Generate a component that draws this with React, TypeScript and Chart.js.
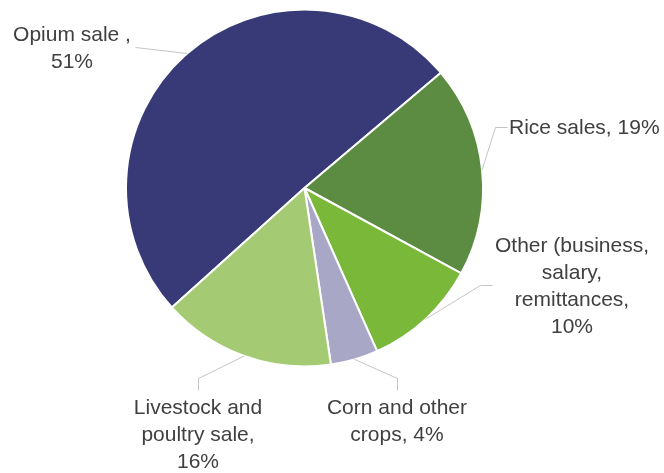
import React, { useEffect, useRef } from "react";
import { Chart, registerables } from "chart.js";

Chart.register(...registerables);

const categories = [
  "Opium sale ,",
  "Rice sales,",
  "Other (business, salary, remittances,",
  "Corn and other crops,",
  "Livestock and poultry sale,",
];
const shares = [50.5, 19.1, 10.4, 4.3, 15.7];
const sliceColors = ["#373a76", "#5b8c42", "#7ab83a", "#a8a8c6", "#a4cb74"];
const labelLines = [
  ["Opium sale ,", "51%"],
  ["Rice sales, 19%"],
  ["Other (business,", "salary,", "remittances,", "10%"],
  ["Corn and other", "crops, 4%"],
  ["Livestock and", "poultry sale,", "16%"],
];

// label layout (text anchor, alignment, leader elbow points)
const labelLayout = [
  { x: 72, y: 33, align: "center", leader: [[135, 47]] },
  { x: 509, y: 126, align: "left", leader: [[495, 127], [507, 127]] },
  { x: 572, y: 244, align: "center", leader: [[480, 285], [492, 285]] },
  { x: 397, y: 406, align: "center", leader: [[397, 378], [397, 390]] },
  { x: 198, y: 406, align: "center", leader: [[198, 378], [198, 390]] },
];

const labelPlugin = {
  id: "outLabels",
  afterDraw(chart: any) {
    const ctx = chart.ctx;
    const meta = chart.getDatasetMeta(0);
    ctx.save();
    meta.data.forEach((arc: any, i: number) => {
      const mid = (arc.startAngle + arc.endAngle) / 2;
      const r = arc.outerRadius;
      const sx = arc.x + Math.cos(mid) * r;
      const sy = arc.y + Math.sin(mid) * r;
      const lay = labelLayout[i];
      ctx.strokeStyle = "#c4c4c4";
      ctx.lineWidth = 1;
      ctx.beginPath();
      ctx.moveTo(sx, sy);
      lay.leader.forEach((p) => ctx.lineTo(p[0] + 0.5, p[1] + 0.5));
      ctx.stroke();
      ctx.fillStyle = "#404040";
      ctx.font = '21px "Liberation Sans", Arial, sans-serif';
      ctx.textAlign = lay.align as CanvasTextAlign;
      ctx.textBaseline = "alphabetic";
      labelLines[i].forEach((t, k) => {
        ctx.fillText(t, lay.x, lay.y + k * 27 + 7.5);
      });
    });
    ctx.restore();
  },
};

export default function App() {
  const ref = useRef<HTMLCanvasElement>(null);
  useEffect(() => {
    const chart = new Chart(ref.current as HTMLCanvasElement, {
      type: "pie",
      data: {
        labels: categories,
        datasets: [
          {
            data: shares,
            backgroundColor: sliceColors,
            borderColor: "#ffffff",
            borderWidth: 2,
          },
        ],
      },
      options: {
        animation: false,
        responsive: false,
        rotation: 228,
        layout: { padding: { left: 125, right: 180, top: 8, bottom: 105 } },
        plugins: { legend: { display: false }, tooltip: { enabled: false } },
      },
      plugins: [labelPlugin],
    });
    return () => chart.destroy();
  }, []);
  return (
    <div style={{ position: "fixed", left: 0, top: 0, width: 664, height: 473, background: "#fff" }}>
      <canvas ref={ref} width={664} height={473} style={{ width: 664, height: 473 }} />
    </div>
  );
}
